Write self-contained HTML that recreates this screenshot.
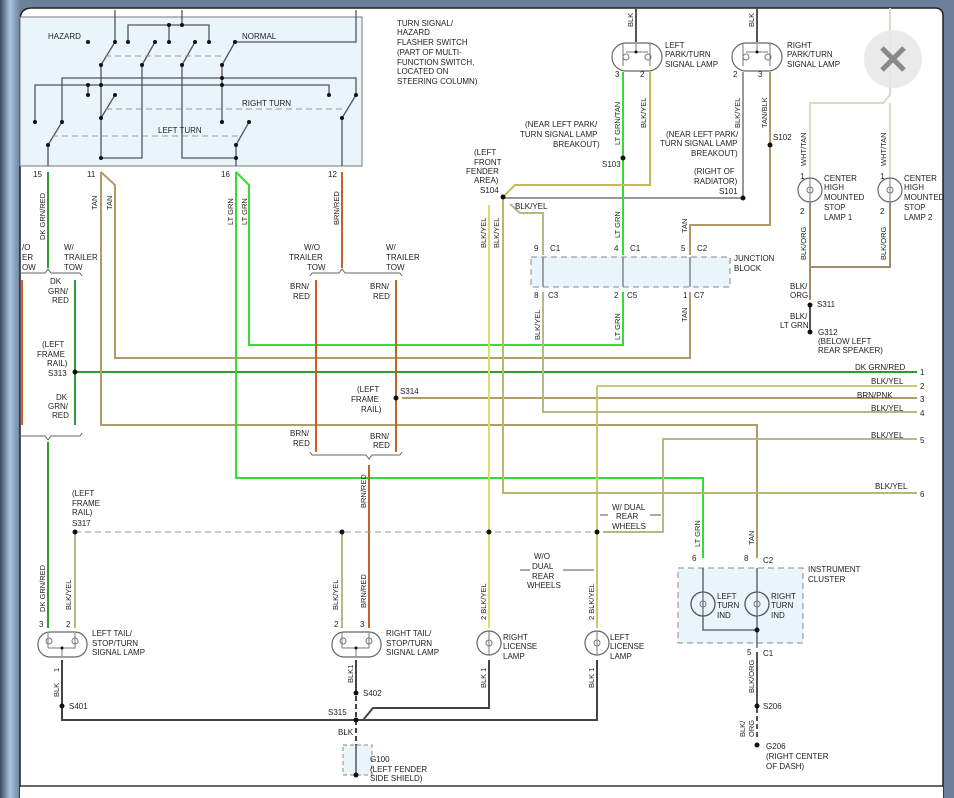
<!DOCTYPE html>
<html><head><meta charset="utf-8"><style>
html,body{margin:0;padding:0;background:#fff;}
svg{display:block;font-family:"Liberation Sans",sans-serif;font-size:8px;fill:#222;}
</style></head><body>
<svg width="954" height="798" viewBox="0 0 954 798" xmlns="http://www.w3.org/2000/svg">
<defs>
<linearGradient id="lg" x1="0" x2="1"><stop offset="0" stop-color="#3a4a5e"/><stop offset="0.5" stop-color="#a9c3e0"/><stop offset="1" stop-color="#6d819c"/></linearGradient>
</defs>
<rect x="0" y="0" width="954" height="798" fill="#6c809b"/>
<rect x="0" y="0" width="20" height="798" fill="url(#lg)"/>
<path d="M20,798 V20 Q20,8 32,8 H935 Q943,8 943,16 V798 Z" fill="#fff" stroke="#222" stroke-width="1.5"/>
<rect x="20" y="787" width="923" height="11" fill="#fff"/>
<line x1="20" y1="786" x2="943" y2="786" stroke="#333" stroke-width="1.5"/>

<rect x="20" y="17" width="342" height="149" fill="#eaf4fb" stroke="#777"/>
<g stroke="#555" stroke-width="1.3" fill="none">
<path d="M115,10 V42 M182,10 V25 M128,42 V25 H209 V42 M169,25 V42 M356,10 V42 H235"/>
<path d="M101,65 L115,42 M142,65 L155,42 M182,65 L195,42 M222,65 L235,42"/>
<path d="M101,65 V158 H142 V65 M182,65 V158 H236 M222,65 V122"/>
<path d="M62,122 V78 H356 V95 M35,122 V85 H329 V95 M88,85 V95 M48,145 L62,122 M101,118 L115,95 M236,145 L249,122 M342,118 L356,95 M48,145 V166 M236,145 V166 M342,118 V166"/>
</g>
<g stroke="#999" stroke-dasharray="6,4" fill="none"><path d="M105,56 H225 M106,109 H342 M52,136 H238"/></g>
<g fill="#111"><circle cx="88" cy="42" r="2"/><circle cx="115" cy="42" r="2"/><circle cx="128" cy="42" r="2"/><circle cx="155" cy="42" r="2"/><circle cx="169" cy="42" r="2"/><circle cx="195" cy="42" r="2"/><circle cx="209" cy="42" r="2"/><circle cx="235" cy="42" r="2"/><circle cx="169" cy="25" r="2"/><circle cx="182" cy="25" r="2"/>
<circle cx="101" cy="65" r="2"/><circle cx="142" cy="65" r="2"/><circle cx="182" cy="65" r="2"/><circle cx="222" cy="65" r="2"/><circle cx="222" cy="78" r="2"/><circle cx="222" cy="85" r="2"/><circle cx="88" cy="85" r="2"/><circle cx="101" cy="85" r="2"/><circle cx="88" cy="95" r="2"/><circle cx="329" cy="95" r="2"/><circle cx="356" cy="95" r="2"/><circle cx="35" cy="122" r="2"/><circle cx="62" cy="122" r="2"/><circle cx="222" cy="122" r="2"/><circle cx="249" cy="122" r="2"/><circle cx="115" cy="95" r="2"/><circle cx="101" cy="118" r="2"/><circle cx="342" cy="118" r="2"/><circle cx="48" cy="145" r="2"/><circle cx="236" cy="145" r="2"/><circle cx="101" cy="158" r="2"/><circle cx="236" cy="158" r="2"/></g>
<text x="48" y="39">HAZARD</text><text x="242" y="39">NORMAL</text><text x="242" y="106">RIGHT TURN</text><text x="158" y="133">LEFT TURN</text>
<text x="397" y="26">TURN SIGNAL/</text><text x="397" y="35">HAZARD</text><text x="397" y="45">FLASHER SWITCH</text><text x="397" y="55">(PART OF MULTI-</text><text x="397" y="65">FUNCTION SWITCH,</text><text x="397" y="74">LOCATED ON</text><text x="397" y="84">STEERING COLUMN)</text>
<text x="33" y="177">15</text><text x="87" y="177">11</text><text x="221" y="177">16</text><text x="328" y="177">12</text>

<g fill="none" stroke-width="2">
<path d="M48,172 V268 M75,280 V425 M48,442 V628" stroke="#2f9a2f"/>
<path d="M22,280 V425" stroke="#d06030"/>
<path d="M75,372 H917" stroke="#2f9a2f"/>
<path d="M101,172 V425 H757 V558" stroke="#b39a66"/>
<path d="M101,172 L115,185 V358 H690 V292" stroke="#b39a66"/>
<path d="M236,172 V478 H703 V558" stroke="#33dd33"/>
<path d="M236,172 L249,185 V345 H623 V292" stroke="#33dd33"/>
<path d="M342,172 V268 M396,280 V452 M369,465 V628" stroke="#b8652e"/>
<path d="M316,280 V452" stroke="#d85a28"/>
<path d="M402,398 H917" stroke="#b39a66"/>
<path d="M597,386 H917 M597,386 V628" stroke="#c8c870"/>
<path d="M543,292 V412 H917" stroke="#b8b880"/>
<path d="M603,532 H663 V439 H917" stroke="#b8b880"/>
<path d="M503,197 V493 H917" stroke="#b8b870"/>
<path d="M489,205 V628" stroke="#dddd66"/>
<path d="M75,532 V628 M342,532 V628" stroke="#b8b880"/>
<path d="M636,8 V42 M757,8 V42" stroke="#555"/>
<path d="M623,72 V255" stroke="#33dd33"/>
<path d="M623,292 V345" stroke="#33dd33"/>
<path d="M650,72 V185 H515 L503,197" stroke="#c8b860"/>
<path d="M743,72 V198 M503,198 H743" stroke="#999"/>
<path d="M510,204 L520,213 H543 V255" stroke="#b8b880"/>
<path d="M770,72 V225 H690 V255" stroke="#b39a66"/>
<path d="M890,8 V95 L883,103 H810 V178 M890,103 V178" stroke="#ddd8c8"/>
<path d="M810,203 V300 M890,203 V267 H810" stroke="#a08a6a"/>
<path d="M810,305 V330" stroke="#555"/>
<path d="M757,652 V740" stroke="#555"/>
<path d="M62,660 V720 H597 V660 M363,720 L373,708 H489 V660 M356,660 V745" stroke="#444"/>
</g>
<path d="M75,532 H597" stroke="#999" stroke-dasharray="6,4" fill="none"/>
<path d="M757,705 V745 M356,693 V745" stroke="#fff" stroke-dasharray="3,5" stroke-width="2" fill="none"/>
<g stroke="#666" fill="none"><path d="M20,273 H45 L48,269 L51,273 H80 L82,276 M20,436 H45 L48,440 L51,436 H80 L82,433 M310,276 L312,273 H339 L342,269 L345,273 H400 L402,276 M310,452 L312,455 H366 L369,459 L372,455 H400 L402,452"/></g>
<rect x="531" y="257" width="199" height="30" fill="#eaf4fb" stroke="#888" stroke-dasharray="6,4"/>
<g stroke="#777" stroke-width="1.3"><path d="M543,257 V287 M623,257 V287 M690,257 V287"/></g>
<rect x="678" y="568" width="125" height="75" fill="#eaf4fb" stroke="#888" stroke-dasharray="6,4"/>
<g stroke="#555" fill="none" stroke-width="1.3"><path d="M703,568 V630 H757 V648 M757,568 V630"/><circle cx="703" cy="604" r="12"/><circle cx="757" cy="604" r="12"/></g>
<rect x="343" y="745" width="29" height="30" fill="#eaf4fb" stroke="#888" stroke-dasharray="4,3"/>
<line x1="356" y1="745" x2="356" y2="775" stroke="#555" stroke-width="1.5"/>
<g stroke="#666" fill="#fff" stroke-width="1.2">
<rect x="612" y="43" width="50" height="28" rx="14"/><rect x="732" y="43" width="50" height="28" rx="14"/>
<rect x="38" y="632" width="49" height="25" rx="12"/><rect x="332" y="632" width="49" height="25" rx="12"/>
<circle cx="810" cy="190" r="12"/><circle cx="890" cy="190" r="12"/>
<circle cx="489" cy="643" r="12"/><circle cx="597" cy="643" r="12"/>
</g>
<!-- lamp internals -->
<g stroke="#777" fill="none" stroke-width="1">
<circle cx="626" cy="57" r="3"/><circle cx="648" cy="57" r="3"/><path d="M623,44 V66 M650,44 V66 M626,52 H648 M636,44 V52"/>
<circle cx="746" cy="57" r="3"/><circle cx="768" cy="57" r="3"/><path d="M743,44 V66 M770,44 V66 M746,52 H768 M757,44 V52"/>
<circle cx="49" cy="641" r="3"/><circle cx="75" cy="641" r="3"/><path d="M48,633 V648 M75,633 V648 H48 M62,648 V656"/>
<circle cx="343" cy="641" r="3"/><circle cx="369" cy="641" r="3"/><path d="M342,633 V648 M369,633 V648 H342 M356,648 V656"/>
<path d="M810,178 V203 M890,178 V203 M489,631 V655 M597,631 V655 M703,592 V616 M757,592 V616"/>
<circle cx="810" cy="190" r="3"/><circle cx="890" cy="190" r="3"/><circle cx="489" cy="643" r="3"/><circle cx="597" cy="643" r="3"/><circle cx="703" cy="604" r="3"/><circle cx="757" cy="604" r="3"/>
</g>
<g fill="#111"><circle cx="623" cy="158" r="2.5"/><circle cx="770" cy="145" r="2.5"/><circle cx="743" cy="198" r="2.5"/><circle cx="503" cy="197" r="2.5"/><circle cx="810" cy="305" r="2.5"/><circle cx="810" cy="332" r="2.5"/>
<circle cx="75" cy="372" r="2.5"/><circle cx="396" cy="398" r="2.5"/><circle cx="75" cy="532" r="2.5"/><circle cx="342" cy="532" r="2.5"/><circle cx="489" cy="532" r="2.5"/><circle cx="597" cy="532" r="2.5"/>
<circle cx="62" cy="706" r="2.5"/><circle cx="356" cy="693" r="2.5"/><circle cx="356" cy="720" r="2.5"/><circle cx="757" cy="706" r="2.5"/><circle cx="757" cy="745" r="2.5"/><circle cx="757" cy="630" r="2.5"/><circle cx="356" cy="775" r="2.5"/><circle cx="636" cy="52" r="1.5"/><circle cx="757" cy="52" r="1.5"/><circle cx="62" cy="648" r="1.5"/><circle cx="356" cy="648" r="1.5"/></g>
<circle cx="893" cy="59" r="29" fill="#e8e8e8" opacity="0.9"/>
<path d="M882,48 L904,70 M904,48 L882,70" stroke="#888" stroke-width="5"/>

<text x="665" y="48">LEFT</text><text x="665" y="57">PARK/TURN</text><text x="665" y="67">SIGNAL LAMP</text>
<text x="787" y="48">RIGHT</text><text x="787" y="57">PARK/TURN</text><text x="787" y="67">SIGNAL LAMP</text>
<text x="824" y="181">CENTER</text><text x="824" y="190">HIGH</text><text x="824" y="200">MOUNTED</text><text x="824" y="210">STOP</text><text x="824" y="220">LAMP 1</text>
<text x="904" y="181">CENTER</text><text x="904" y="190">HIGH</text><text x="904" y="200">MOUNTED</text><text x="904" y="210">STOP</text><text x="904" y="220">LAMP 2</text>
<text x="525" y="127">(NEAR LEFT PARK/</text><text x="520" y="137">TURN SIGNAL LAMP</text><text x="553" y="147">BREAKOUT)</text><text x="602" y="167">S103</text>
<text x="666" y="137">(NEAR LEFT PARK/</text><text x="660" y="146">TURN SIGNAL LAMP</text><text x="691" y="156">BREAKOUT)</text><text x="773" y="140">S102</text>
<text x="694" y="174">(RIGHT OF</text><text x="694" y="184">RADIATOR)</text><text x="719" y="194">S101</text>
<text x="474" y="155">(LEFT</text><text x="474" y="165">FRONT</text><text x="466" y="174">FENDER</text><text x="474" y="183">AREA)</text><text x="480" y="193">S104</text>
<text x="515" y="209">BLK/YEL</text>
<text x="534" y="251">9</text><text x="550" y="251">C1</text><text x="614" y="251">4</text><text x="630" y="251">C1</text><text x="681" y="251">5</text><text x="697" y="251">C2</text>
<text x="534" y="298">8</text><text x="548" y="298">C3</text><text x="614" y="298">2</text><text x="627" y="298">C5</text><text x="683" y="298">1</text><text x="694" y="298">C7</text>
<text x="734" y="261">JUNCTION</text><text x="734" y="271">BLOCK</text>
<text x="790" y="289">BLK/</text><text x="790" y="298">ORG</text><text x="817" y="307">S311</text><text x="790" y="319">BLK/</text><text x="780" y="328">LT GRN</text>
<text x="818" y="335">G312</text><text x="818" y="344">(BELOW LEFT</text><text x="818" y="353">REAR SPEAKER)</text>
<text x="64" y="250">W/</text><text x="64" y="260">TRAILER</text><text x="64" y="270">TOW</text>
<text x="22" y="250">/O</text><text x="22" y="260">ER</text><text x="22" y="270">OW</text>
<text x="50" y="284">DK</text><text x="48" y="294">GRN/</text><text x="52" y="303">RED</text>
<text x="42" y="347">(LEFT</text><text x="37" y="357">FRAME</text><text x="47" y="366">RAIL)</text><text x="48" y="376">S313</text>
<text x="56" y="400">DK</text><text x="48" y="409">GRN/</text><text x="52" y="418">RED</text>
<text x="304" y="250">W/O</text><text x="289" y="260">TRAILER</text><text x="307" y="270">TOW</text>
<text x="386" y="250">W/</text><text x="386" y="260">TRAILER</text><text x="386" y="270">TOW</text>
<text x="290" y="289">BRN/</text><text x="293" y="299">RED</text><text x="370" y="289">BRN/</text><text x="373" y="299">RED</text>
<text x="357" y="392">(LEFT</text><text x="351" y="402">FRAME</text><text x="361" y="412">RAIL)</text><text x="400" y="394">S314</text>
<text x="290" y="436">BRN/</text><text x="293" y="446">RED</text><text x="370" y="439">BRN/</text><text x="373" y="448">RED</text>
<text x="72" y="496">(LEFT</text><text x="72" y="506">FRAME</text><text x="72" y="515">RAIL)</text><text x="72" y="526">S317</text>
<text x="855" y="370">DK GRN/RED</text><text x="871" y="384">BLK/YEL</text><text x="857" y="398">BRN/PNK</text><text x="871" y="411">BLK/YEL</text><text x="871" y="438">BLK/YEL</text><text x="875" y="489">BLK/YEL</text>
<text x="920" y="375">1</text><text x="920" y="389">2</text><text x="920" y="402">3</text><text x="920" y="416">4</text><text x="920" y="443">5</text><text x="920" y="497">6</text>
<text x="612" y="510">W/ DUAL</text><text x="616" y="519">REAR</text><text x="612" y="529">WHEELS</text>
<path d="M600,515 H608 M650,515 H661 M520,570 H530 M563,570 H594" stroke="#555"/>
<text x="534" y="559">W/O</text><text x="532" y="569">DUAL</text><text x="532" y="579">REAR</text><text x="527" y="588">WHEELS</text>
<text x="692" y="561">6</text><text x="744" y="561">8</text><text x="763" y="563">C2</text>
<text x="808" y="572">INSTRUMENT</text><text x="808" y="582">CLUSTER</text>
<text x="717" y="599">LEFT</text><text x="717" y="608">TURN</text><text x="717" y="618">IND</text>
<text x="771" y="599">RIGHT</text><text x="771" y="608">TURN</text><text x="771" y="618">IND</text>
<text x="747" y="655">5</text><text x="763" y="656">C1</text><text x="763" y="709">S206</text>
<text x="766" y="749">G206</text><text x="766" y="759">(RIGHT CENTER</text><text x="766" y="769">OF DASH)</text>
<text x="92" y="636">LEFT TAIL/</text><text x="92" y="646">STOP/TURN</text><text x="92" y="655">SIGNAL LAMP</text>
<text x="386" y="636">RIGHT TAIL/</text><text x="386" y="646">STOP/TURN</text><text x="386" y="655">SIGNAL LAMP</text>
<text x="503" y="640">RIGHT</text><text x="503" y="649">LICENSE</text><text x="503" y="659">LAMP</text>
<text x="610" y="640">LEFT</text><text x="610" y="649">LICENSE</text><text x="610" y="659">LAMP</text>
<text x="69" y="709">S401</text><text x="363" y="696">S402</text><text x="328" y="715">S315</text><text x="338" y="735">BLK</text>
<text x="370" y="762">G100</text><text x="370" y="772">(LEFT FENDER</text><text x="370" y="781">SIDE SHIELD)</text>
<text x="615" y="77">3</text><text x="640" y="77">2</text><text x="733" y="77">2</text><text x="758" y="77">3</text>
<text x="800" y="179">1</text><text x="880" y="179">1</text><text x="800" y="214">2</text><text x="880" y="214">2</text>
<text x="39" y="627">3</text><text x="66" y="627">2</text><text x="334" y="627">2</text><text x="360" y="627">3</text>
<g font-size="7.5">
<text transform="translate(45,240) rotate(-90)">DK GRN/RED</text>
<text transform="translate(97,210) rotate(-90)">TAN</text><text transform="translate(112,210) rotate(-90)">TAN</text>
<text transform="translate(233,225) rotate(-90)">LT GRN</text><text transform="translate(247,225) rotate(-90)">LT GRN</text>
<text transform="translate(339,225) rotate(-90)">BRN/RED</text>
<text transform="translate(633,27) rotate(-90)">BLK</text><text transform="translate(754,27) rotate(-90)">BLK</text>
<text transform="translate(620,145) rotate(-90)">LT GRN/TAN</text><text transform="translate(646,128) rotate(-90)">BLK/YEL</text>
<text transform="translate(740,128) rotate(-90)">BLK/YEL</text><text transform="translate(767,128) rotate(-90)">TAN/BLK</text>
<text transform="translate(806,166) rotate(-90)">WHT/TAN</text><text transform="translate(886,166) rotate(-90)">WHT/TAN</text>
<text transform="translate(806,260) rotate(-90)">BLK/ORG</text><text transform="translate(886,260) rotate(-90)">BLK/ORG</text>
<text transform="translate(486,248) rotate(-90)">BLK/YEL</text><text transform="translate(499,248) rotate(-90)">BLK/YEL</text>
<text transform="translate(620,238) rotate(-90)">LT GRN</text><text transform="translate(687,233) rotate(-90)">TAN</text>
<text transform="translate(540,340) rotate(-90)">BLK/YEL</text><text transform="translate(620,340) rotate(-90)">LT GRN</text><text transform="translate(687,322) rotate(-90)">TAN</text>
<text transform="translate(366,508) rotate(-90)">BRN/RED</text>
<text transform="translate(45,612) rotate(-90)">DK GRN/RED</text><text transform="translate(71,610) rotate(-90)">BLK/YEL</text>
<text transform="translate(338,610) rotate(-90)">BLK/YEL</text><text transform="translate(366,608) rotate(-90)">BRN/RED</text>
<text transform="translate(486,620) rotate(-90)">2 BLK/YEL</text><text transform="translate(594,620) rotate(-90)">2 BLK/YEL</text>
<text transform="translate(700,547) rotate(-90)">LT GRN</text><text transform="translate(754,545) rotate(-90)">TAN</text>
<text transform="translate(59,697) rotate(-90)">BLK</text><text transform="translate(59,672) rotate(-90)">1</text>
<text transform="translate(353,683) rotate(-90)">BLK1</text>
<text transform="translate(486,688) rotate(-90)">BLK  1</text><text transform="translate(594,688) rotate(-90)">BLK  1</text>
<text transform="translate(754,693) rotate(-90)">BLK/ORG</text>
<text transform="translate(745,737) rotate(-90)">BLK/</text><text transform="translate(754,737) rotate(-90)">ORG</text>
</g>
</svg>
</body></html>
